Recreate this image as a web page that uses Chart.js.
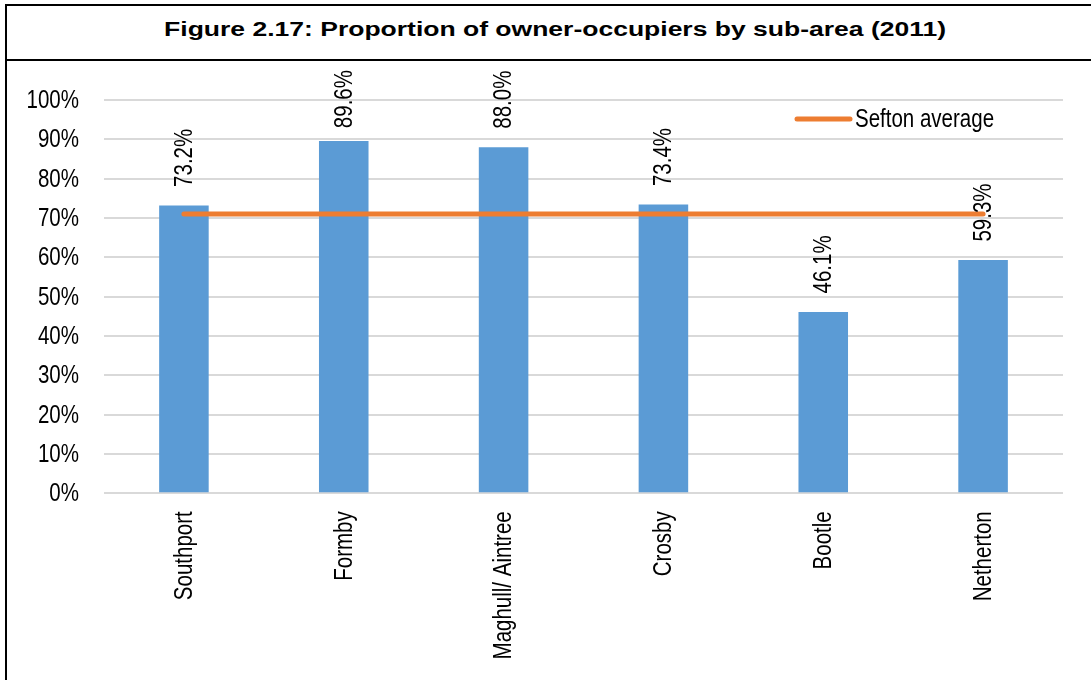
<!DOCTYPE html>
<html>
<head>
<meta charset="utf-8">
<script src="https://cdn.jsdelivr.net/npm/chart.js@4/dist/chart.umd.min.js"></script>
<style>
    html, body { margin: 0; padding: 0; background: #fff; overflow: hidden; }
    body { width: 1091px; height: 680px; position: relative; }
    .frame {
        position: absolute; left: 5px; top: 4px; width: 1100px; height: 720px;
        border-top: 2px solid #000; border-left: 2px solid #000;
    }
    .header {
        height: 53px; border-bottom: 2px solid #000;
        width: 1096px; position: relative;
    }
    .title {
        position: absolute; left: 0; right: 0; top: 12px; text-align: center;
        font: bold 20px 'Liberation Sans', Arial, sans-serif; color: #000;
        white-space: nowrap;
    }
    .title span { display: inline-block; transform-origin: center; }
    #chart { position: absolute; left: 0; top: 0; }
</style>
</head>
<body>
<div class="frame">
    <div class="header"><div class="title"><span id="titleText">Figure 2.17: Proportion of owner-occupiers by sub-area (2011)</span></div></div>
</div>
<canvas id="chart" width="1091" height="680"></canvas>
<script>
// Data
const categories = ['Southport', 'Formby', 'Maghull/ Aintree', 'Crosby', 'Bootle', 'Netherton'];
const ownerShare = [73.2, 89.6, 88.0, 73.4, 46.1, 59.3];
const seftonAverage = [71.0, 71.0, 71.0, 71.0, 71.0, 71.0];
const yTicks = [0, 10, 20, 30, 40, 50, 60, 70, 80, 90, 100];

// Title is drawn wide in the original, stretch to match
const titleEl = document.getElementById('titleText');
titleEl.style.transform = 'scaleX(' + (782 / titleEl.getBoundingClientRect().width).toFixed(3) + ')';

// The original uses a narrow face; squeeze Liberation Sans instead
const FONT = "25px 'Liberation Sans', Arial, sans-serif";
const SQUEEZE = 0.82;

const BAR_COLOR = '#5b9bd5';
const LINE_COLOR = '#ed7d31';

/**
 * Draw narrow text; angle 0 or -90deg
 */
function narrowText(ctx, text, x, y, align, rotated) {
    ctx.save();
    ctx.translate(x, y);
    if (rotated) ctx.rotate(-Math.PI / 2);
    ctx.scale(SQUEEZE, 1);
    ctx.textAlign = align;
    ctx.textBaseline = 'middle';
    ctx.fillText(text, 0, 0);
    ctx.restore();
}

// Tick labels for both axes, placed from the scales
const axisLabels = {
    id: 'axisLabels',
    afterDraw(chart) {
        const ctx = chart.ctx;
        const xs = chart.scales.x, ys = chart.scales.y;
        ctx.save();
        ctx.font = FONT;
        ctx.fillStyle = '#000';
        yTicks.forEach(v => {
            narrowText(ctx, v + '%', 79, ys.getPixelForValue(v) + 1, 'right', false);
        });
        categories.forEach((c, i) => {
            narrowText(ctx, c, xs.getPixelForValue(i) + 1, ys.bottom + 18, 'right', true);
        });
        ctx.restore();
    }
};

// Value labels above bars, rotated
const barLabels = {
    id: 'barLabels',
    afterDraw(chart) {
        const ctx = chart.ctx;
        const meta = chart.getDatasetMeta(1);
        ctx.save();
        ctx.font = FONT;
        ctx.fillStyle = '#000';
        meta.data.forEach((bar, i) => {
            const text = ownerShare[i].toFixed(1) + '%';
            const w = ctx.measureText(text).width * SQUEEZE;
            const yBottom = Math.max(bar.y - 18.5, 70 + w);
            narrowText(ctx, text, bar.x + 1, yBottom, 'left', true);
        });
        ctx.restore();
    }
};

// Legend inside plot, top right
const insideLegend = {
    id: 'insideLegend',
    afterDraw(chart) {
        const ctx = chart.ctx;
        ctx.save();
        ctx.strokeStyle = LINE_COLOR;
        ctx.lineWidth = 5;
        ctx.lineCap = 'round';
        ctx.beginPath();
        ctx.moveTo(797, 119);
        ctx.lineTo(850, 119);
        ctx.stroke();
        ctx.font = FONT;
        ctx.fillStyle = '#000';
        narrowText(ctx, chart.data.datasets[0].label, 855, 120, 'left', false);
        ctx.restore();
    }
};

new Chart(document.getElementById('chart'), {
    data: {
        labels: categories,
        datasets: [
            {
                type: 'line',
                label: 'Sefton average',
                data: seftonAverage,
                borderColor: LINE_COLOR,
                borderWidth: 5,
                borderCapStyle: 'round',
                pointRadius: 0,
                order: 0
            },
            {
                type: 'bar',
                label: 'Owner-occupiers',
                data: ownerShare,
                backgroundColor: BAR_COLOR,
                barPercentage: 0.31,
                categoryPercentage: 1,
                order: 1
            }
        ]
    },
    options: {
        responsive: false,
        animation: false,
        layout: { padding: { top: 100, right: 28, left: 0, bottom: 0 } },
        plugins: {
            legend: { display: false },
            tooltip: { enabled: false }
        },
        scales: {
            x: {
                grid: { display: false, drawTicks: false },
                border: { display: false },
                ticks: { display: false },
                afterFit(scale) { scale.height = 186.7; }
            },
            y: {
                min: 0,
                max: 100,
                afterBuildTicks(scale) { scale.ticks = yTicks.map(v => ({ value: v })); },
                grid: { color: '#d9d9d9', lineWidth: 2, drawTicks: false },
                border: { display: false },
                ticks: { display: false },
                afterFit(scale) { scale.width = 104; }
            }
        }
    },
    plugins: [axisLabels, barLabels, insideLegend]
});
</script>
</body>
</html>
